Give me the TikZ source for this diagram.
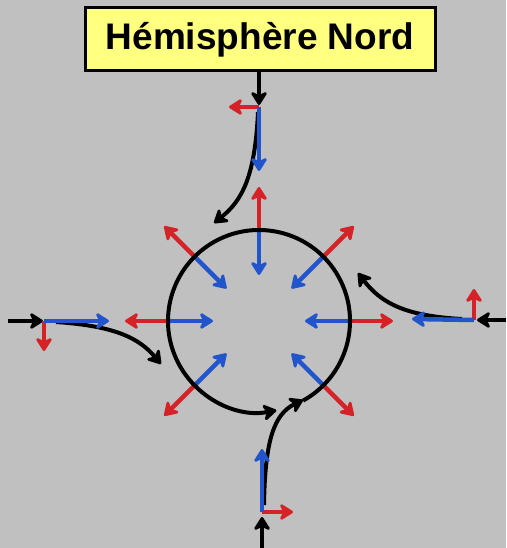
\documentclass[tikz,border=0pt]{standalone}
\usepackage{fontspec}
\setmainfont{Liberation Sans}
\usetikzlibrary{arrows.meta}
\definecolor{bg}{RGB}{192,192,192}
\definecolor{ttl}{RGB}{255,255,128}
\definecolor{rd}{RGB}{212,34,38}
\definecolor{bl}{RGB}{34,85,204}
\begin{document}
\begin{tikzpicture}[x=1pt,y=-1pt,
  tipk/.style={-{Stealth[length=16pt,width=20pt,inset=5pt,round]}},
  flow/.style={tipk, line width=4pt, black},
  redarr/.style={tipk, line width=4.5pt, rd},
  bluearr/.style={tipk, line width=4.5pt, bl},
  titlebox/.style={draw=black, line width=3pt, fill=ttl, minimum width=350pt, minimum height=63pt,
    font=\fontsize{37}{40}\selectfont\bfseries}
]
\fill[bg] (0,0) rectangle (506,548);
\useasboundingbox (0,0) rectangle (506,548);

\coordinate (c) at (259,321);

% title
\node[titlebox] (title) at (260,39.5) {Hémisphère Nord};

% --- inflows: coordinates
% top
\coordinate (t0) at (259,72);
\coordinate (t1) at (259,105);
\coordinate (to) at (259,107);
\coordinate (tr) at (229,107);
\coordinate (tb) at (259,171);
\coordinate (ts) at (258,112);
\coordinate (te) at (214,223);
% left
\coordinate (l0) at (8,321);
\coordinate (l1) at (43,321);
\coordinate (lo) at (44,321);
\coordinate (lr) at (44,351);
\coordinate (lb) at (109,321);
\coordinate (ls) at (56,322);
\coordinate (le) at (161,364);
% right
\coordinate (r0) at (506,320);
\coordinate (r1) at (477,320);
\coordinate (ro) at (474,320);
\coordinate (rr) at (474,289);
\coordinate (rb) at (412,319);
\coordinate (rs) at (462,319);
\coordinate (re) at (358,273);
% bottom
\coordinate (b0) at (262,548);
\coordinate (b1) at (262,517);
\coordinate (bo) at (262,512);
\coordinate (br) at (293,512);
\coordinate (bb) at (262,449);
\coordinate (bs) at (264,505);
\coordinate (be) at (303,400);

% black incoming arrows
\draw[flow] (t0) -- (t1);
\draw[flow] (l0) -- (l1);
\draw[flow] (r0) -- (r1);
\draw[flow] (b0) -- (b1);

% deflected curves
\draw[flow] (ts) .. controls (255,175) and (243,200) .. (te);
\draw[flow] (ls) .. controls (115,326) and (139,338) .. (le);
\draw[flow] (rs) .. controls (405,316) and (381,303) .. (re);
\draw[flow] (bs) .. controls (265,440) and (274,414) .. (be);

% red / blue at inflows
\draw[redarr] (to) -- (tr);
\draw[bluearr] (to) -- (tb);
\draw[redarr] (lo) -- (lr);
\draw[bluearr] (lo) -- (lb);
\draw[redarr] (ro) -- (rr);
\draw[bluearr] (ro) -- (rb);
\draw[redarr] (bo) -- (br);
\draw[bluearr] (bo) -- (bb);

% red / blue around the circle
\foreach \a in {-90,-45,0,45,135,180,-135} {
  \draw[redarr] ([shift={(\a:91)}]c) -- ([shift={(\a:134)}]c);
  \draw[bluearr] ([shift={(\a:91)}]c) -- ([shift={(\a:46)}]c);
}

% circle
\draw[flow] ([shift={(61:91)}]c) arc[start angle=61, end angle=-281, radius=91];
\end{tikzpicture}
\end{document}
